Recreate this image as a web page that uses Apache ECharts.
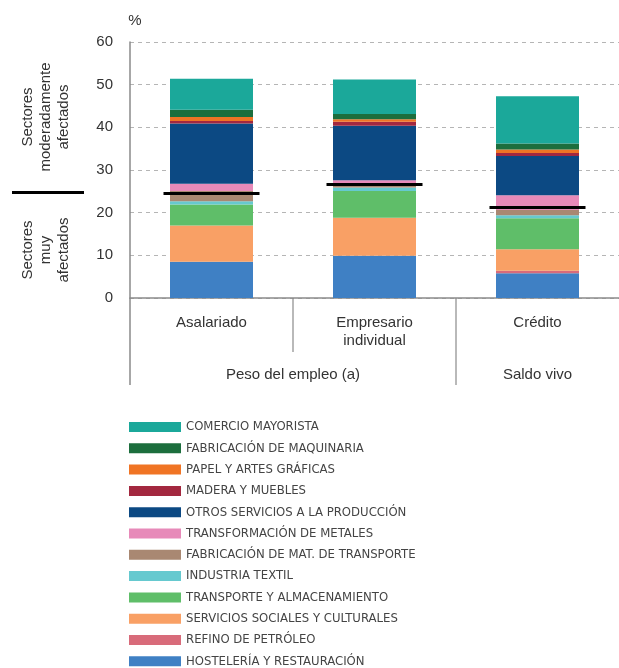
<!DOCTYPE html>
<html>
<head>
<meta charset="utf-8">
<script src="https://cdn.jsdelivr.net/npm/echarts@6/dist/echarts.min.js"></script>
<style>
  html, body { margin: 0; padding: 0; background: #fff; }
  #chart { width: 619px; height: 668px; }
</style>
</head>
<body>
<div id="chart"></div>
<script>
// Categories on the x axis and the groups that span them
const categories = ['Asalariado', 'Empresario\nindividual', 'Crédito'];
const groupLabels = ['Peso del empleo (a)', 'Saldo vivo'];
const yTicks = [0, 10, 20, 30, 40, 50, 60];

// Share of each sector (%), stacked from the bottom up
const hosteleria      = [8.5, 9.9, 5.8];
const refino          = [0.0, 0.0, 0.6];
const serviciosSoc    = [8.5, 8.9, 5.0];
const transporteAlm   = [4.9, 6.3, 7.3];
const textil          = [0.8, 0.8, 0.7];
const matTransporte   = [2.4, 0.6, 1.2];
const metales         = [1.7, 1.1, 3.5];
const otrosServicios  = [14.1, 12.8, 9.2];
const madera          = [0.6, 0.9, 0.7];
const papel           = [0.9, 0.6, 0.8];
const maquinaria      = [1.7, 1.2, 1.4];
const comercio        = [7.3, 8.1, 11.1];

// Threshold between "muy afectados" and "moderadamente afectados"
const umbral = [24.5, 26.6, 21.2];

const sectorNames = [
  'HOSTELERÍA Y RESTAURACIÓN',
  'REFINO DE PETRÓLEO',
  'SERVICIOS SOCIALES Y CULTURALES',
  'TRANSPORTE Y ALMACENAMIENTO',
  'INDUSTRIA TEXTIL',
  'FABRICACIÓN DE MAT. DE TRANSPORTE',
  'TRANSFORMACIÓN DE METALES',
  'OTROS SERVICIOS A LA PRODUCCIÓN',
  'MADERA Y MUEBLES',
  'PAPEL Y ARTES GRÁFICAS',
  'FABRICACIÓN DE MAQUINARIA',
  'COMERCIO MAYORISTA'
];
const sectorValues = [hosteleria, refino, serviciosSoc, transporteAlm, textil,
  matTransporte, metales, otrosServicios, madera, papel, maquinaria, comercio];
const sectorColors = ['#3F80C4', '#D86B7A', '#F9A065', '#5FBE69', '#66C9CF',
  '#A98872', '#E78AB9', '#0C4983', '#A3283F', '#F07424', '#1C6E3D', '#1BA89A'];

const textColor = '#333';
const axisColor = '#8a8a8a';
const baseFont = '"Liberation Sans", Arial, sans-serif';
const narrowFont = '"Liberation Sans Narrow", "DejaVu Sans Condensed", "Liberation Sans", sans-serif';

const chart = echarts.init(document.getElementById('chart'), null, { renderer: 'canvas' });

const series = sectorNames.map((name, i) => ({
  name: name,
  type: 'bar',
  stack: 'total',
  barWidth: 83,
  data: sectorValues[i],
  itemStyle: { color: sectorColors[i] },
  emphasis: { disabled: true }
}));

series.push({
  name: 'umbral',
  type: 'scatter',
  data: umbral,
  symbol: 'rect',
  symbolSize: [96, 3],
  itemStyle: { color: '#000', opacity: 1 },
  z: 10,
  emphasis: { disabled: true }
});

chart.setOption({
  animation: false,
  textStyle: { fontFamily: baseFont },
  grid: { left: 130, right: 0, top: 42, bottom: 370, containLabel: false },
  xAxis: {
    type: 'category',
    data: categories,
    axisLine: { lineStyle: { color: axisColor, width: 1.5 } },
    axisTick: { show: false },
    axisLabel: { color: textColor, fontSize: 15, margin: 16, lineHeight: 18, fontFamily: baseFont }
  },
  yAxis: {
    type: 'value',
    min: yTicks[0],
    max: yTicks[yTicks.length - 1],
    interval: 10,
    axisLine: { show: true, lineStyle: { color: axisColor, width: 1.5 } },
    axisTick: { show: false },
    axisLabel: { color: textColor, fontSize: 15, margin: 17, fontFamily: baseFont },
    splitLine: { show: true, lineStyle: { color: '#b5b5b5', type: [4, 4], width: 1 } }
  },
  legend: {
    orient: 'vertical',
    left: 129,
    top: 420.5,
    padding: 0,
    itemWidth: 52,
    itemHeight: 10,
    itemGap: 8.3,
    icon: 'rect',
    selectedMode: false,
    data: sectorNames.slice().reverse(),
    textStyle: { color: '#444', fontSize: 13, lineHeight: 13, fontFamily: narrowFont }
  },
  series: series
});

// Separators, group labels and side annotations placed from the axis scales
const cx = categories.map((_, i) => chart.convertToPixel({ xAxisIndex: 0 }, i));
const band = cx[1] - cx[0];
const leftX = cx[0] - band / 2;
const rightX = cx[2] + band / 2;
const sep01 = (cx[0] + cx[1]) / 2;
const sep12 = (cx[1] + cx[2]) / 2;
const y0 = chart.convertToPixel({ yAxisIndex: 0 }, 0);
const yTop = chart.convertToPixel({ yAxisIndex: 0 }, 60);

const lineStyle = { stroke: axisColor, lineWidth: 1.2 };
const sideText = (x, y, text) => ({
  type: 'text',
  x: x, y: y,
  rotation: Math.PI / 2,
  style: {
    text: text,
    fill: textColor,
    font: '15px ' + baseFont,
    align: 'center',
    verticalAlign: 'middle',
    lineHeight: 18
  }
});

chart.setOption({
  graphic: [
    { type: 'line', shape: { x1: sep01, y1: y0, x2: sep01, y2: y0 + 54 }, style: lineStyle },
    { type: 'line', shape: { x1: sep12, y1: y0, x2: sep12, y2: y0 + 87 }, style: lineStyle },
    { type: 'line', shape: { x1: leftX, y1: y0, x2: leftX, y2: y0 + 87 }, style: { stroke: axisColor, lineWidth: 1.5 } },
    {
      type: 'text', x: (leftX + sep12) / 2, y: y0 + 77,
      style: { text: groupLabels[0], fill: textColor, font: '15px ' + baseFont, align: 'center', verticalAlign: 'middle' }
    },
    {
      type: 'text', x: (sep12 + rightX) / 2, y: y0 + 77,
      style: { text: groupLabels[1], fill: textColor, font: '15px ' + baseFont, align: 'center', verticalAlign: 'middle' }
    },
    {
      type: 'text', x: leftX + 5, y: yTop - 21,
      style: { text: '%', fill: textColor, font: '15px ' + baseFont, align: 'center', verticalAlign: 'middle' }
    },
    sideText(46, 117, 'Sectores\nmoderadamente\nafectados'),
    { type: 'rect', shape: { x: 12, y: 191, width: 72, height: 3 }, style: { fill: '#000' } },
    sideText(46, 250, 'Sectores\nmuy\nafectados')
  ]
});
</script>
</body>
</html>
